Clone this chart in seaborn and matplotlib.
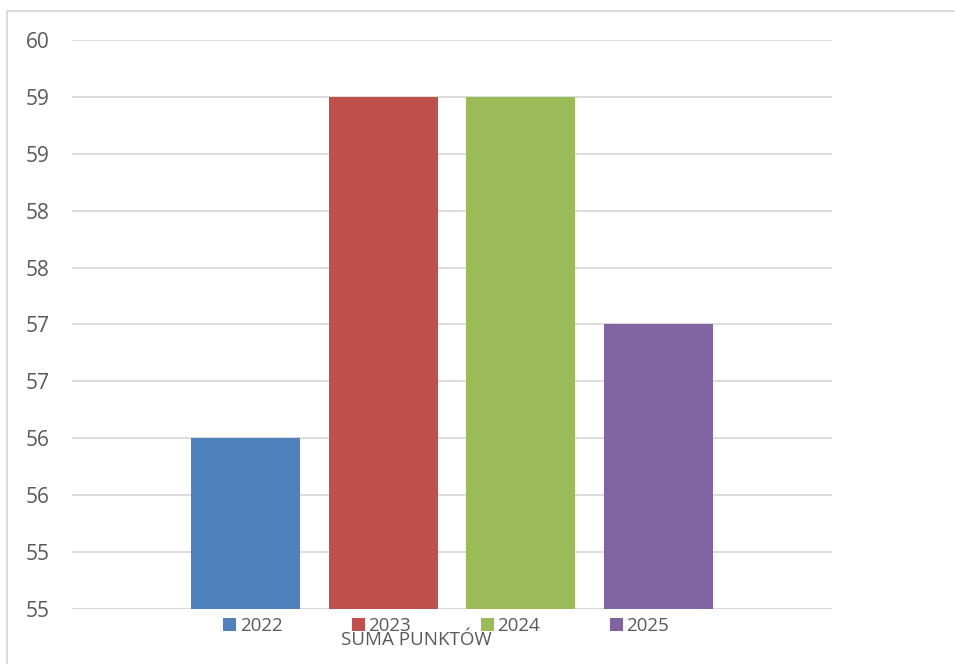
import matplotlib
matplotlib.use("Agg")
import matplotlib.pyplot as plt
import seaborn as sns
import pandas as pd
from matplotlib.lines import Line2D
from matplotlib.patches import Patch

years = ["2022", "2023", "2024", "2025"]
values = [56.5, 59.5, 59.5, 57.5]
category = "SUMA PUNKTÓW"
tick_values = [55, 55.5, 56, 56.5, 57, 57.5, 58, 58.5, 59, 59.5, 60]
tick_labels = ["55", "55", "56", "56", "57", "57", "58", "58", "59", "59", "60"]
colors = ["#4F81BD", "#C0504D", "#9BBB59", "#8064A2"]

df = pd.DataFrame({"cat": [category] * len(years), "year": years, "value": values})

sns.set_theme(style="white")
plt.rcParams["font.family"] = ["Open Sans", "DejaVu Sans"]

fig = plt.figure(figsize=(9.55, 6.64), dpi=100)
ax = fig.add_axes([72 / 955, 1 - 609 / 664, (832 - 72) / 955, (609 - 40) / 664])

sns.barplot(data=df, x="cat", y="value", hue="year", palette=colors,
            width=0.726, gap=0.21, ax=ax, legend=False, saturation=1, linewidth=0)

ax.set_xlim(-0.5, 0.5)
ax.set_ylim(55, 60)
ax.set_yticks(tick_values)
ax.set_yticklabels(tick_labels)
ax.set_xticks([])
ax.set_xlabel("")
ax.set_ylabel("")
ax.grid(axis="y", color="#D9D9D9", linewidth=1.3)
ax.set_axisbelow(True)
for s in ax.spines.values():
    s.set_visible(False)
ax.tick_params(axis="y", length=0, pad=16, labelsize=15, labelcolor="#595959")
ax.axhline(55, color="#D9D9D9", linewidth=1.3, zorder=0.5)

handles = [Patch(facecolor=c, edgecolor="none") for c in colors]
leg = fig.legend(handles, years, loc="center", bbox_to_anchor=(446 / 955, 1 - 626 / 664),
                 ncol=4, frameon=False, fontsize=13.5, handlelength=0.69, handleheight=0.69,
                 handletextpad=0.21, columnspacing=3.7, labelcolor="#595959",
                 borderpad=0, borderaxespad=0)

fig.text(416 / 955, 1 - 640 / 664, category, ha="center", va="center",
         fontsize=13.5, color="#595959")

# chart frame
fig.add_artist(Line2D([7 / 955, 1.0], [1 - 11 / 664, 1 - 11 / 664], color="#D9D9D9", linewidth=1.3))
fig.add_artist(Line2D([7 / 955, 7 / 955], [0.0, 1 - 11 / 664], color="#D9D9D9", linewidth=1.3))

fig.savefig("out.png", dpi=100)
